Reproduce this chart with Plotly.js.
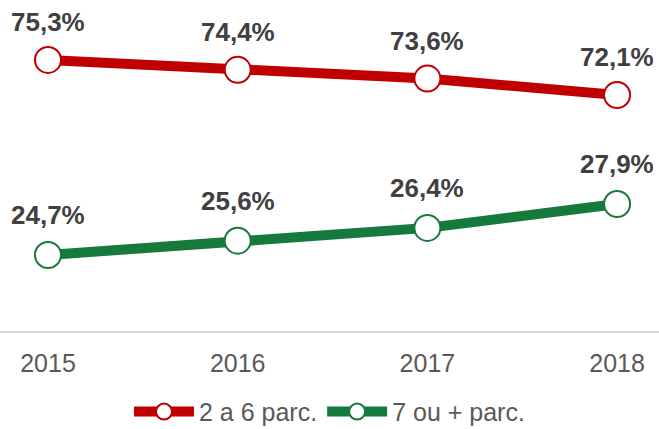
<!DOCTYPE html>
<html>
<head>
<meta charset="utf-8">
<script src="https://cdn.plot.ly/plotly-3.0.1.min.js"></script>
<style>html,body{margin:0;padding:0;background:#fff;}#chart{width:659px;height:429px;}</style>
</head>
<body>
<div id="chart"></div>
<script>
const years = ['2015', '2016', '2017', '2018'];
const seriesA = [75.3, 74.4, 73.6, 72.1];
const seriesB = [24.7, 25.6, 26.4, 27.9];
const nameA = '2 a 6 parc.';
const nameB = '7 ou + parc.';

const fmt = v => v.toFixed(1).replace('.', ',') + '%';

const red = '#C00000';
const green = '#157A3C';
const labelFont = {family: 'Liberation Sans, Arial, sans-serif', size: 26, color: '#404040', weight: 'bold'};

const traces = [
  {
    x: years, y: seriesA, name: nameA, type: 'scatter', mode: 'lines+markers',
    line: {color: red, width: 10},
    marker: {size: 26, color: '#ffffff', line: {color: red, width: 2}},
    cliponaxis: false, yaxis: 'y', hoverinfo: 'skip'
  },
  {
    x: years, y: seriesB, name: nameB, type: 'scatter', mode: 'lines+markers',
    line: {color: green, width: 10},
    marker: {size: 26, color: '#ffffff', line: {color: green, width: 2}},
    cliponaxis: false, yaxis: 'y2', hoverinfo: 'skip'
  }
];

const annotations = [];
years.forEach((yr, i) => {
  annotations.push({x: i, y: seriesA[i], xref: 'x', yref: 'y', text: fmt(seriesA[i]),
    showarrow: false, yanchor: 'middle', yshift: 38, font: labelFont});
  annotations.push({x: i, y: seriesB[i], xref: 'x', yref: 'y2', text: fmt(seriesB[i]),
    showarrow: false, yanchor: 'middle', yshift: 40, font: labelFont});
});

const layout = {
  width: 659, height: 429,
  margin: {l: 0, r: 0, t: 0, b: 98, autoexpand: false},
  paper_bgcolor: '#ffffff', plot_bgcolor: '#ffffff',
  font: {family: 'Liberation Sans, Arial, sans-serif', color: '#595959', size: 25},
  showlegend: true,
  legend: {orientation: 'h', x: 0.5, xanchor: 'center', yref: 'container', y: 0.04, yanchor: 'middle',
           font: {size: 25, color: '#595959'}, itemwidth: 60, tracegroupgap: 0},
  annotations: annotations,
  xaxis: {
    type: 'category', range: [-0.253, 3.221], showgrid: false, zeroline: false,
    showline: true, linecolor: '#D9D9D9', linewidth: 2, ticks: '', automargin: false,
    ticklabelstandoff: 9,
    tickfont: {size: 25, color: '#595959'}, fixedrange: true
  },
  yaxis: {range: [50.53, 80.78], visible: false, showgrid: false, zeroline: false, fixedrange: true},
  yaxis2: {range: [19.93, 40.70], overlaying: 'y', visible: false, showgrid: false, zeroline: false, fixedrange: true}
};

Plotly.newPlot('chart', traces, layout, {displayModeBar: false, staticPlot: true});
</script>
</body>
</html>
